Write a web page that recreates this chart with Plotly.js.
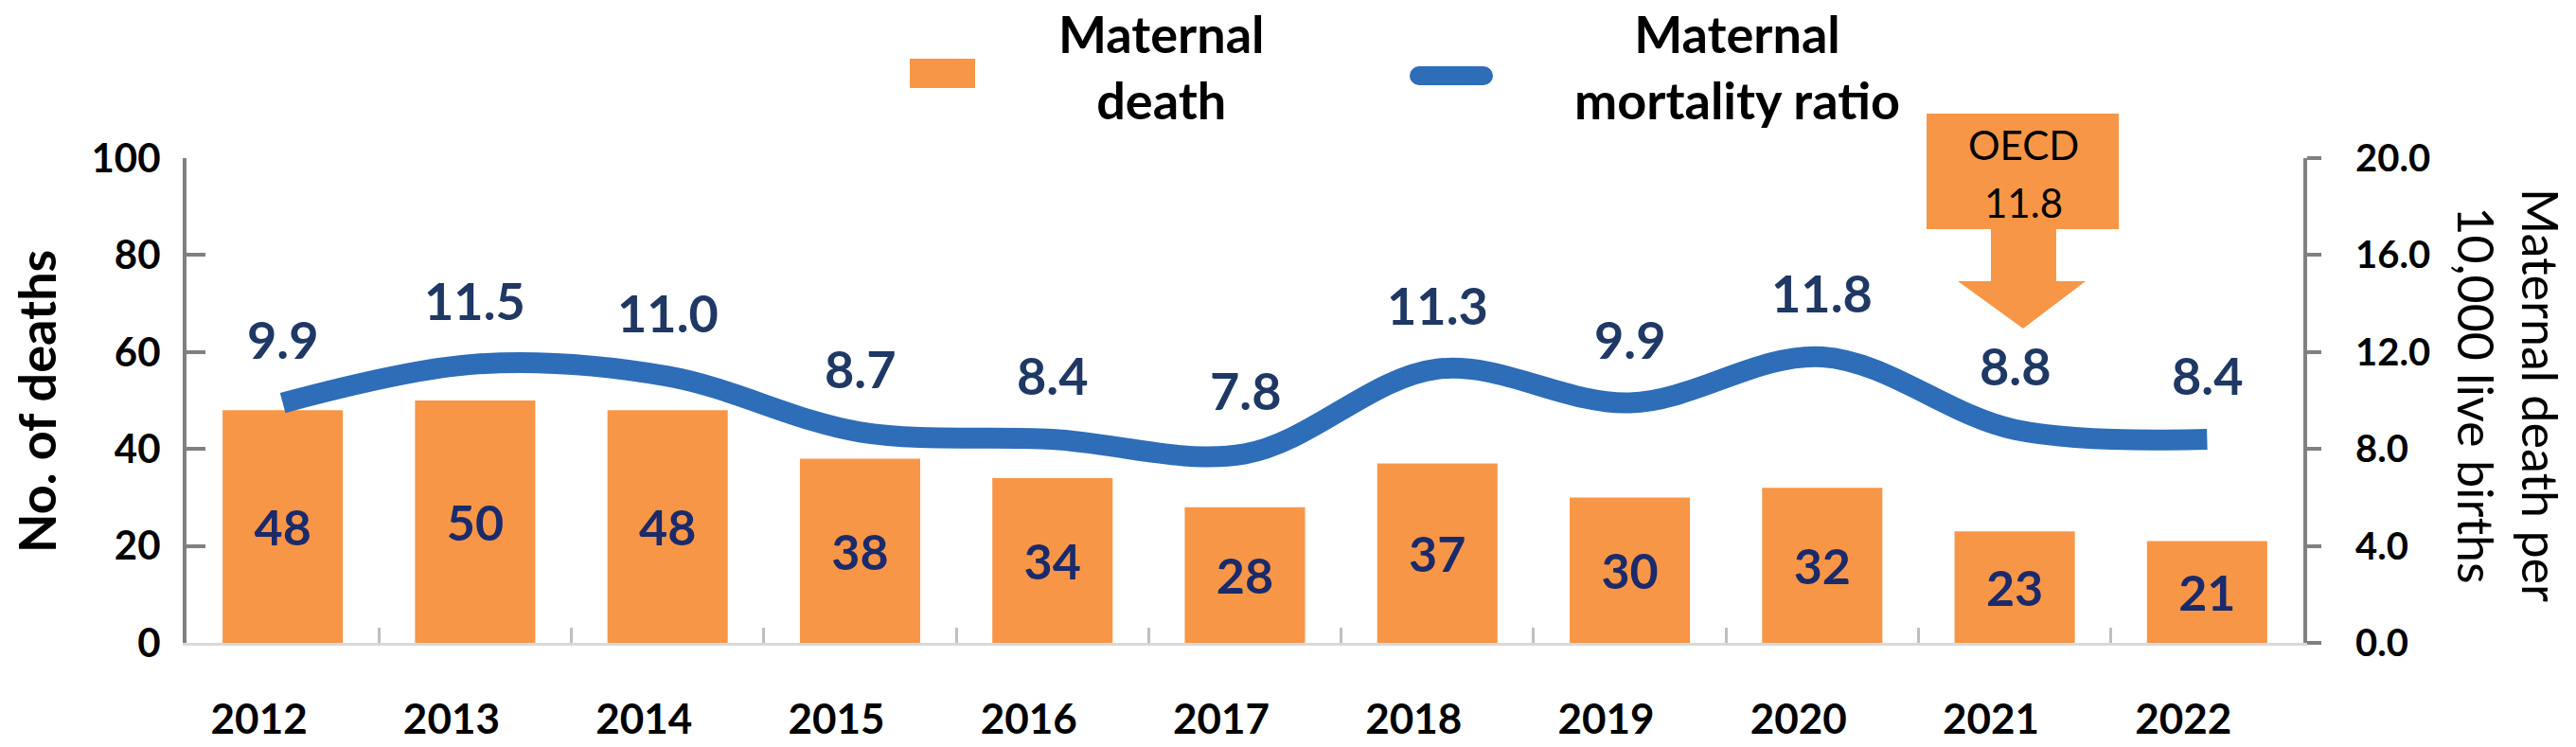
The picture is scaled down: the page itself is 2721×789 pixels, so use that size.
<!DOCTYPE html>
<html>
<head>
<meta charset="utf-8">
<script src="https://cdn.plot.ly/plotly-3.0.1.min.js"></script>
<style>html,body{margin:0;padding:0;background:#fff;}#chart{width:2721px;height:789px;}</style>
</head>
<body>
<div id="chart"></div>
<script>
// ---- data ----
const years = ['2012','2013','2014','2015','2016','2017','2018','2019','2020','2021','2022'];
const maternalDeaths = [48, 50, 48, 38, 34, 28, 37, 30, 32, 23, 21];
const mortalityRatio = [9.9, 11.5, 11.0, 8.7, 8.4, 7.8, 11.3, 9.9, 11.8, 8.8, 8.4];
const leftTickVals = [0, 20, 40, 60, 80, 100];
const rightTickVals = [0, 4, 8, 12, 16, 20];
const oecdRatio = 11.8;
const legendNames = ['Maternal<br>death', 'Maternal<br>mortality ratio'];

// ---- layout geometry (pixels) ----
const W = 2721, H = 789;
const L = 197, R = 2433, T = 167, B = 679;
const px = x => (x - L) / (R - L);
const py = y => (B - y) / (B - T);

const ORANGE = '#F79646';
const BLUE = '#2E6DB8';
const FONT = 'Lato, "Open Sans", sans-serif';

const bars = {
  type: 'bar',
  x: years,
  y: maternalDeaths,
  name: 'Maternal death',
  marker: {color: ORANGE, line: {width: 0}},
  text: maternalDeaths.map(String),
  textposition: 'inside',
  insidetextanchor: 'middle',
  constraintext: 'none',
  textangle: 0,
  textfont: {family: FONT, size: 52, color: '#1B2A6B', weight: 700},
  hoverinfo: 'x+y',
  showlegend: false
};

const line = {
  type: 'scatter',
  mode: 'lines',
  x: years,
  y: mortalityRatio,
  yaxis: 'y2',
  name: 'Maternal mortality ratio',
  line: {color: BLUE, width: 22, shape: 'spline', smoothing: 1},
  showlegend: false
};

const annotations = [];
// ratio labels above line (x given as category index)
years.forEach((yr, i) => {
  annotations.push({
    x: i, y: mortalityRatio[i], xref: 'x', yref: 'y2',
    text: '<b>' + mortalityRatio[i].toFixed(1) + '</b>',
    showarrow: false, yshift: 67, xanchor: 'center', yanchor: 'middle',
    font: {family: FONT, size: 54, color: '#1F3864'}
  });
});
// legend texts
annotations.push({x: px(1227), y: py(70), xref: 'paper', yref: 'paper', text: '<b>' + legendNames[0] + '</b>',
  showarrow: false, align: 'center', xanchor: 'center', yanchor: 'middle',
  font: {family: FONT, size: 54, color: '#000'}});
annotations.push({x: px(1835), y: py(70), xref: 'paper', yref: 'paper', text: '<b>' + legendNames[1] + '</b>',
  showarrow: false, align: 'center', xanchor: 'center', yanchor: 'middle',
  font: {family: FONT, size: 54, color: '#000'}});
// OECD callout text
annotations.push({x: px(2137), y: py(153), xref: 'paper', yref: 'paper', text: 'OECD',
  showarrow: false, xanchor: 'center', yanchor: 'middle', font: {family: FONT, size: 42, color: '#000'}});
annotations.push({x: px(2137), y: py(214), xref: 'paper', yref: 'paper', text: oecdRatio.toFixed(1),
  showarrow: false, xanchor: 'center', yanchor: 'middle', font: {family: FONT, size: 42, color: '#000'}});
// axis titles
annotations.push({x: px(38), y: py(424), xref: 'paper', yref: 'paper', text: '<b>No. of deaths</b>',
  textangle: -90, showarrow: false, xanchor: 'center', yanchor: 'middle',
  font: {family: FONT, size: 54, color: '#000'}});
annotations.push({x: px(2650), y: py(417), xref: 'paper', yref: 'paper', text: 'Maternal death per<br>10,000 live births',
  textangle: 90, showarrow: false, align: 'center', xanchor: 'center', yanchor: 'middle',
  font: {family: FONT, size: 52, color: '#000'}});

const shapes = [
  // legend symbols
  {type: 'rect', xref: 'paper', yref: 'paper', x0: px(961), x1: px(1030), y0: py(93), y1: py(62),
   fillcolor: ORANGE, line: {width: 0}},
  {type: 'line', xref: 'paper', yref: 'paper', x0: px(1499), x1: px(1567), y0: py(80), y1: py(80),
   line: {color: BLUE, width: 20}},
  {type: 'circle', xref: 'paper', yref: 'paper', x0: px(1489), x1: px(1509), y0: py(90), y1: py(70),
   fillcolor: BLUE, line: {width: 0}},
  {type: 'circle', xref: 'paper', yref: 'paper', x0: px(1557), x1: px(1577), y0: py(90), y1: py(70),
   fillcolor: BLUE, line: {width: 0}},
  // OECD callout box + arrow
  {type: 'rect', xref: 'paper', yref: 'paper', x0: px(2035), x1: px(2238), y0: py(242), y1: py(120),
   fillcolor: ORANGE, line: {width: 0}, layer: 'above'},
  {type: 'path', xref: 'paper', yref: 'paper', fillcolor: ORANGE, line: {width: 0}, layer: 'above',
   path: `M ${px(2103)},${py(241)} L ${px(2172)},${py(241)} L ${px(2172)},${py(297)} L ${px(2203)},${py(297)} ` +
         `L ${px(2137)},${py(347)} L ${px(2068)},${py(297)} L ${px(2103)},${py(297)} Z`}
];

const layout = {
  width: W, height: H,
  margin: {l: L, r: W - R, t: T, b: H - B, pad: 0},
  paper_bgcolor: '#fff', plot_bgcolor: '#fff',
  font: {family: FONT, color: '#000'},
  bargap: 0.375,
  showlegend: false,
  xaxis: {
    type: 'category',
    range: [-0.5, years.length - 0.5],
    showline: true, linecolor: '#D9D9D9', linewidth: 3,
    ticks: 'inside', tickson: 'boundaries', ticklen: 16, tickwidth: 3, tickcolor: '#BFBFBF',
    tickfont: {family: FONT, size: 44, color: '#000', weight: 700},
    ticklabelstandoff: 40, ticklabelshift: -25,
    showgrid: false, zeroline: false, fixedrange: true
  },
  yaxis: {
    range: [0, 100], tickvals: leftTickVals,
    showline: true, linecolor: '#808080', linewidth: 4,
    ticks: 'inside', ticklen: 20, tickwidth: 4, tickcolor: '#808080',
    tickfont: {family: FONT, size: 42, color: '#000', weight: 700},
    ticklabelstandoff: 15,
    showgrid: false, zeroline: false, fixedrange: true
  },
  yaxis2: {
    overlaying: 'y', side: 'right', anchor: 'x',
    range: [0, 20], tickvals: rightTickVals, tickformat: '.1f',
    showline: true, linecolor: '#808080', linewidth: 4,
    ticks: 'outside', ticklen: 15, tickwidth: 4, tickcolor: '#808080',
    tickfont: {family: FONT, size: 40, color: '#000', weight: 700},
    ticklabelstandoff: 28,
    showgrid: false, zeroline: false, fixedrange: true
  },
  annotations: annotations,
  shapes: shapes
};

Plotly.newPlot('chart', [bars, line], layout, {displayModeBar: false, staticPlot: true});
</script>
</body>
</html>
